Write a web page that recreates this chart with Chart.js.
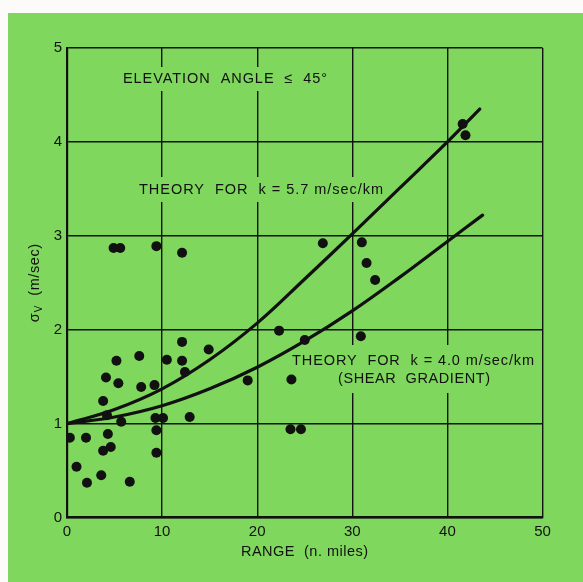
<!DOCTYPE html>
<html>
<head>
<meta charset="utf-8">
<script src="https://cdn.jsdelivr.net/npm/chart.js@4.4.1/dist/chart.umd.min.js"></script>
<style>
  html, body { margin: 0; padding: 0; background: #fff; }
  #wrap { width: 583px; height: 582px; }
</style>
</head>
<body>
<div id="wrap"><canvas id="c" width="583" height="582"></canvas></div>
<script>
// measured points: range (n. miles) and sigma_v (m/sec)
const obsRange = [0.3, 2.0, 1.0, 2.1, 3.6, 6.6, 3.8, 4.6, 4.3, 4.2, 5.7, 3.8, 4.1, 5.4, 5.2,
  7.6, 7.8, 9.2, 9.3, 10.1, 9.4, 9.4, 10.5, 12.1, 12.1, 12.4, 12.9, 14.9, 19.0, 22.3,
  23.6, 23.5, 24.6, 25.0, 26.9, 30.9, 31.0, 31.5, 32.4, 41.6, 41.9, 4.9, 5.6, 9.4, 12.1];
const obsSigma = [0.85, 0.85, 0.54, 0.37, 0.45, 0.38, 0.71, 0.75, 0.89, 1.09, 1.02, 1.24, 1.49, 1.43, 1.67,
  1.72, 1.39, 1.41, 1.06, 1.06, 0.93, 0.69, 1.68, 1.67, 1.87, 1.55, 1.07, 1.79, 1.46, 1.99,
  1.47, 0.94, 0.94, 1.89, 2.92, 1.93, 2.93, 2.71, 2.53, 4.19, 4.07, 2.87, 2.87, 2.89, 2.82];

// theory curve, k = 5.7 m/sec/km
const theoryHiRange = [0, 5, 10, 15, 20, 25, 30, 35, 40, 43.4];
const theoryHiSigma = [1.0, 1.15, 1.37, 1.68, 2.07, 2.54, 3.02, 3.51, 4.0, 4.35];

// theory curve, k = 4.0 m/sec/km
const theoryLoRange = [0, 5, 10, 15, 20, 25, 30, 35, 40, 43.7];
const theoryLoSigma = [1.0, 1.07, 1.19, 1.37, 1.60, 1.88, 2.20, 2.56, 2.94, 3.22];

const xTicks = [0, 10, 20, 30, 40, 50];
const yTicks = [0, 1, 2, 3, 4, 5];

const GREEN = '#7fd75d';
const INK = '#111';
const FONT = '"Liberation Sans", Arial, sans-serif';

const toXY = (xs, ys) => xs.map((x, i) => ({ x: x, y: ys[i] }));

// labels inside the plot, each sits on a green patch that breaks the grid
const notes = [
  { text: 'ELEVATION  ANGLE  \u2264  45\u00b0', x: 123, y: 79, w: 204 },
  { text: 'THEORY  FOR  k = 5.7 m/sec/km', x: 139, y: 190, w: 244 },
  { text: 'THEORY  FOR  k = 4.0 m/sec/km', x: 292, y: 361, w: 242 },
  { text: '(SHEAR  GRADIENT)', x: 338, y: 379, w: 152 }
];

function spacedText(ctx, text, x, y, w) {
  ctx.letterSpacing = '0px';
  const m = ctx.measureText(text).width;
  const sp = (w - m) / Math.max(1, text.length - 1);
  ctx.letterSpacing = sp.toFixed(2) + 'px';
  ctx.fillText(text, x, y);
  ctx.letterSpacing = '0px';
}

const paper = {
  id: 'paper',
  beforeDraw(chart) {
    const ctx = chart.ctx;
    ctx.save();
    ctx.fillStyle = '#fdfbfa';
    ctx.fillRect(0, 0, chart.width, chart.height);
    ctx.fillStyle = GREEN;
    ctx.fillRect(8, 13, chart.width - 8, chart.height - 13);
    ctx.restore();
  },
  beforeDatasetsDraw(chart) {
    const ctx = chart.ctx;
    ctx.save();
    ctx.font = '14.5px ' + FONT;
    ctx.textBaseline = 'middle';
    ctx.textAlign = 'left';
    // green patches first, so the grid gaps span both shear lines
    ctx.fillStyle = GREEN;
    ctx.fillRect(118, 67, 214, 24);
    ctx.fillRect(134, 177, 254, 25);
    ctx.fillRect(287, 345, 252, 48);
    ctx.fillStyle = INK;
    notes.forEach(n => spacedText(ctx, n.text, n.x, n.y, n.w));
    ctx.restore();
  },
  afterDraw(chart) {
    const ctx = chart.ctx;
    const a = chart.chartArea;
    ctx.save();
    ctx.fillStyle = INK;
    ctx.textBaseline = 'middle';
    // x axis title
    ctx.font = '14.5px ' + FONT;
    ctx.textAlign = 'left';
    spacedText(ctx, 'RANGE  (n. miles)', 241, 552, 127);
    // y axis title with subscript
    ctx.translate(35, (a.top + a.bottom) / 2);
    ctx.rotate(-Math.PI / 2);
    const sig = '\u03c3';
    const rest = '  (m/sec)';
    ctx.font = '10px ' + FONT;
    const wv = ctx.measureText('V').width;
    ctx.font = '14.5px ' + FONT;
    ctx.letterSpacing = '0.6px';
    const ws = ctx.measureText(sig).width;
    const wr = ctx.measureText(rest).width;
    let x0 = -(ws + wv + 1 + wr) / 2;
    ctx.fillText(sig, x0, 0);
    ctx.font = '10px ' + FONT;
    ctx.fillText('V', x0 + ws + 0.5, 4);
    ctx.font = '14.5px ' + FONT;
    ctx.fillText(rest, x0 + ws + wv + 1, 0);
    ctx.restore();
  }
};

new Chart(document.getElementById('c'), {
  type: 'scatter',
  data: {
    datasets: [
      {
        label: 'observed',
        data: toXY(obsRange, obsSigma),
        pointRadius: 5,
        pointBackgroundColor: INK,
        pointBorderWidth: 0,
        order: 1
      },
      {
        label: 'k = 5.7',
        data: toXY(theoryHiRange, theoryHiSigma),
        showLine: true,
        borderColor: INK,
        borderWidth: 3.2,
        pointRadius: 0,
        tension: 0.4,
        borderCapStyle: 'round',
        order: 2
      },
      {
        label: 'k = 4.0',
        data: toXY(theoryLoRange, theoryLoSigma),
        showLine: true,
        borderColor: INK,
        borderWidth: 3.2,
        pointRadius: 0,
        tension: 0.4,
        borderCapStyle: 'round',
        order: 3
      }
    ]
  },
  options: {
    responsive: false,
    animation: false,
    events: [],
    layout: { padding: { left: 0, top: 48, right: 40.5, bottom: 0 } },
    plugins: { legend: { display: false }, tooltip: { enabled: false } },
    scales: {
      x: {
        type: 'linear',
        min: 0,
        max: 50,
        afterFit(s) { s.height = 64.5; },
        afterBuildTicks(s) { s.ticks = xTicks.map(v => ({ value: v })); },
        grid: { color: INK, lineWidth: 1.4, drawTicks: false },
        border: { color: INK, width: 2.2 },
        ticks: { color: INK, padding: 5, font: { family: FONT, size: 15 } }
      },
      y: {
        type: 'linear',
        min: 0,
        max: 5,
        afterFit(s) { s.width = 67; },
        afterBuildTicks(s) { s.ticks = yTicks.map(v => ({ value: v })); },
        grid: { color: INK, lineWidth: 1.4, drawTicks: false },
        border: { color: INK, width: 2.2 },
        ticks: { color: INK, padding: 5, font: { family: FONT, size: 15 } }
      }
    }
  },
  plugins: [paper]
});
</script>
</body>
</html>
